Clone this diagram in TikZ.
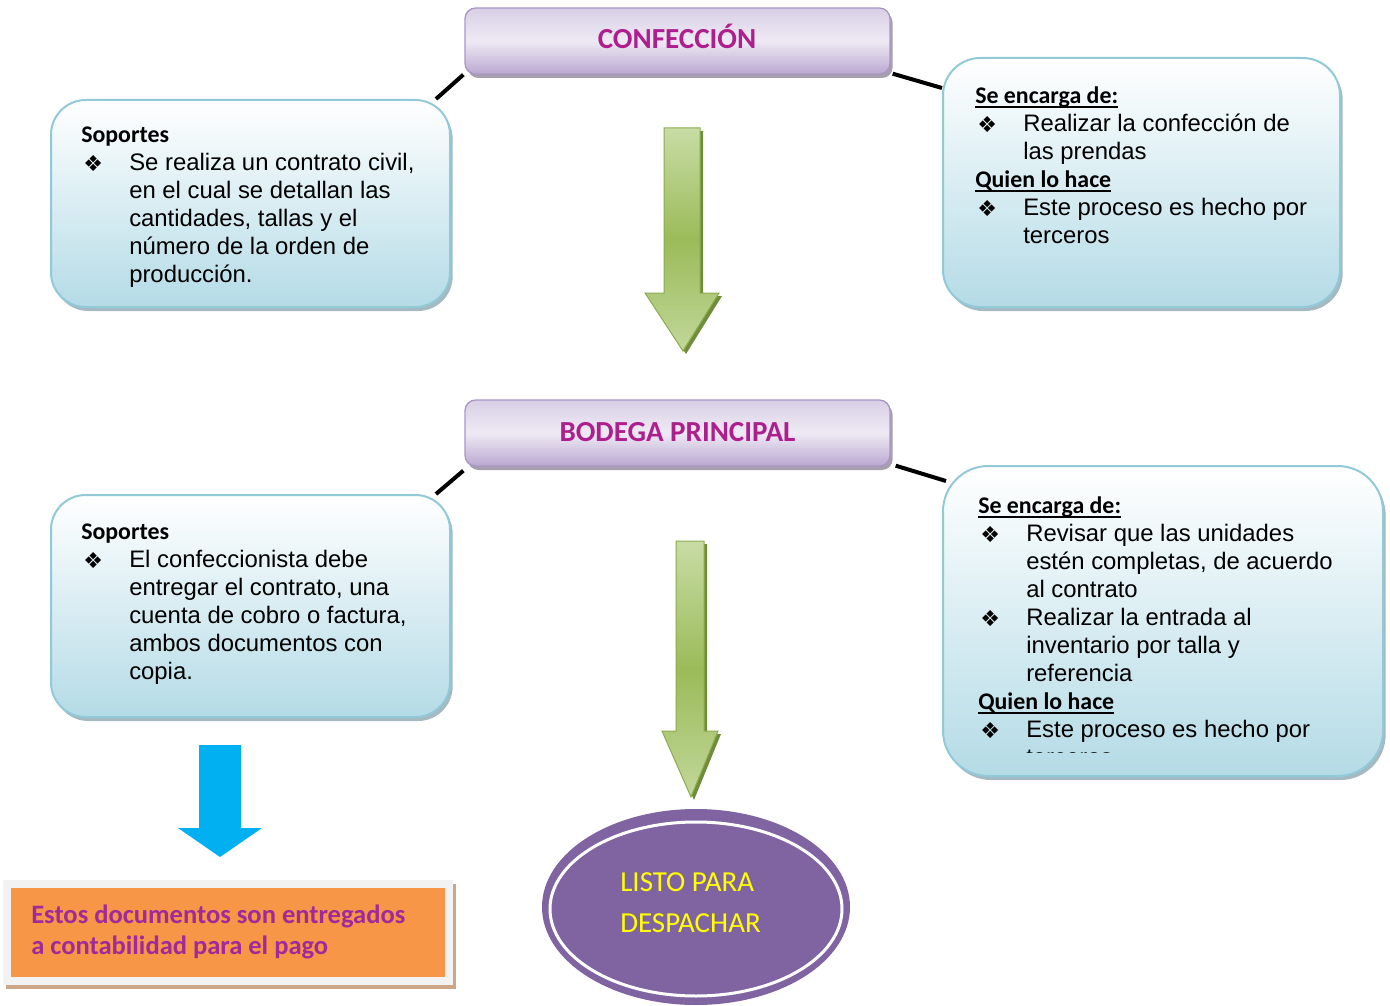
\documentclass[tikz,border=0pt]{standalone}
\usepackage{fontspec}
\setmainfont{Liberation Sans}
\newfontfamily\calib{Carlito}
\newfontfamily\dingf{DejaVu Sans}
\usetikzlibrary{shadows,calc,fit,backgrounds,shapes.geometric}
\definecolor{boxblue}{HTML}{B4DBE6}
\definecolor{boxline}{HTML}{92C9D9}
\definecolor{boxshadow}{HTML}{8FA7B1}
\definecolor{purtop}{HTML}{D9CFE6}
\definecolor{purmid}{HTML}{EEEAF4}
\definecolor{purbot}{HTML}{BBA8D1}
\definecolor{purline}{HTML}{A897C6}
\definecolor{purshadow}{HTML}{9C95A4}
\definecolor{magtext}{HTML}{AE1F8E}
\definecolor{grnlight}{HTML}{C8DCA5}
\definecolor{grnmid}{HTML}{9BBB59}
\definecolor{grnline}{HTML}{8CAB4E}
\definecolor{grnshadow}{HTML}{6F8C3B}
\definecolor{cyanarrow}{HTML}{00B0F0}
\definecolor{orangefill}{HTML}{F79646}
\definecolor{orangetext}{HTML}{A0299C}
\definecolor{framegray}{HTML}{F2F2F2}
\definecolor{brownshadow}{HTML}{CDA587}
\definecolor{ovalfill}{HTML}{8064A2}
\definecolor{ovaltext}{HTML}{FFFF00}

\newsavebox{\hdbox}
\newcommand{\bul}{\makebox[36pt][l]{\hspace*{1.5pt}\raisebox{-0.6pt}{\dingf\fontsize{16.5}{21}\selectfont ❖}}}
\newcommand{\ind}{\hspace*{36pt}}
\newcommand{\hd}[1]{{\calib\bfseries #1}}
\newcommand{\uhd}[1]{\sbox{\hdbox}{\calib\bfseries #1}\rlap{\rule[-3.4pt]{\wd\hdbox}{1.5pt}}\usebox{\hdbox}}

\tikzset{
  bluebox/.style={draw=boxline, line width=1.5pt, top color=white, bottom color=boxblue,
    inner sep=0pt, drop shadow={shadow xshift=2pt, shadow yshift=-3pt, fill=boxshadow, opacity=0.8}},
  purbox/.style={draw=purline, line width=1pt, rounded corners=8pt, top color=purtop, bottom color=purbot,
    middle color=purmid, inner sep=0pt, drop shadow={shadow xshift=2pt, shadow yshift=-3pt, fill=purshadow, opacity=0.9}},
  purtitle/.style={anchor=base, inner sep=0pt, text=magtext, font=\calib\bfseries\fontsize{21.8}{26}\selectfont},
  txt/.style={anchor=north west, inner sep=0pt, align=left, font=\fontsize{17.9}{21}\selectfont},
  conn/.style={line width=3pt, black},
  garrow/.style={draw=grnline, line width=0.75pt, top color=grnlight, bottom color=grnlight!85!grnmid, middle color=grnmid},
  gshadow/.style={fill=grnshadow},
}

\begin{document}
\begin{tikzpicture}[x=0.75pt,y=-0.75pt]
\useasboundingbox (0,0) rectangle (1390,1006);

% title boxes
\node[purbox, fit={(465,8) (890,74)}] (conf) {};
\node[purtitle] (tconf) at (677,49) {CONFECCIÓN};
\node[purbox, fit={(465,400) (890,466)}] (bod) {};
\node[purtitle] (tbod) at (677.5,441) {BODEGA PRINCIPAL};

% blue boxes
\node[bluebox, rounded corners=26pt, fit={(51,100) (450,307)}] (sop1) {};
\node[bluebox, rounded corners=28pt, fit={(943,58) (1340,307)}] (enc1) {};
\node[bluebox, rounded corners=26pt, fit={(51,495) (450,717)}] (sop2) {};
\node[bluebox, rounded corners=34pt, fit={(943,466) (1383,776)}] (enc2) {};

\node[txt] (tsop1) at (81,122.4) {\strut\hd{Soportes}\\
\bul Se realiza un contrato civil,\\
\ind en el cual se detallan las\\
\ind cantidades, tallas y el\\
\ind número de la orden de\\
\ind producción.};

\node[txt] (tenc1) at (975,83.4) {\strut\uhd{Se encarga de:}\\
\bul Realizar la confección de\\
\ind las prendas\\
\uhd{Quien lo hace}\\
\bul Este proceso es hecho por\\
\ind terceros};

\node[txt] (tsop2) at (81,519.4) {\strut\hd{Soportes}\\
\bul El confeccionista debe\\
\ind entregar el contrato, una\\
\ind cuenta de cobro o factura,\\
\ind ambos documentos con\\
\ind copia.};

\begin{scope}
\clip (940,460) rectangle (1390,752);
\node[txt] (tenc2) at (978,493.4) {\strut\uhd{Se encarga de:}\\
\bul Revisar que las unidades\\
\ind estén completas, de acuerdo\\
\ind al contrato\\
\bul Realizar la entrada al\\
\ind inventario por talla y\\
\ind referencia\\
\uhd{Quien lo hace}\\
\bul Este proceso es hecho por\\
\ind terceros};
\end{scope}

% connectors
\begin{scope}[on background layer]
\draw[conn] ($(sop1.north east)+(-15,0)$) -- ($(conf.south west)+(-1,0)$);
\draw[conn] ($(conf.south east)+(2,-1)$) -- ($(enc1.north west)+(0,31)$);
\draw[conn] ($(sop2.north east)+(-15,0)$) -- ($(bod.south west)+(-1,4)$);
\draw[conn] ($(bod.south east)+(5,-1)$) -- ($(enc2.north west)+(4,16)$);
\end{scope}

% green arrows
\fill[gshadow, shift={(3,3)}] (664,128) -- (700,128) -- (700,293) -- (719,293) -- (683,351) -- (645,293) -- (664,293) -- cycle;
\path[garrow] (664,128) -- (700,128) -- (700,293) -- (719,293) -- (683,351) -- (645,293) -- (664,293) -- cycle;

\fill[gshadow, shift={(3,3)}] (676,541) -- (704,541) -- (704,731) -- (718,731) -- (691,797) -- (662,731) -- (676,731) -- cycle;
\path[garrow] (676,541) -- (704,541) -- (704,731) -- (718,731) -- (691,797) -- (662,731) -- (676,731) -- cycle;

% blue arrow
\fill[cyanarrow] (199,745) -- (241,745) -- (241,828) -- (262,828) -- (220,857) -- (178,828) -- (199,828) -- cycle;

% orange box
\node[fit={(6,884) (456,989)}, inner sep=0pt, fill=brownshadow] (orsh) {};
\node[fit={(3,880) (453,985)}, inner sep=0pt, fill=framegray] (orframe) {};
\node[fit={(11,888) (445,977)}, inner sep=0pt, fill=orangefill] (orbox) {};
\node[anchor=north west, inner sep=0pt, align=left, text=orangetext,
  font=\calib\bfseries\fontsize{19.9}{23.25}\selectfont] (tor) at (31,901.3)
  {\strut Estos documentos son entregados\\a contabilidad para el pago};

% oval
\node[ellipse, minimum width=231pt, minimum height=147pt, fill=ovalfill, inner sep=0pt] (oval) at (696,907) {};
\draw[white, line width=2.25pt] ($(oval.center)+(0,2)$) ellipse [x radius=109.5pt, y radius=65.25pt];
\node[anchor=north west, inner sep=0pt, align=left, text=ovaltext,
  font=\calib\fontsize{21.75}{30.75}\selectfont] (tlisto) at (620,863)
  {\strut LISTO PARA\\DESPACHAR};
\end{tikzpicture}
\end{document}
